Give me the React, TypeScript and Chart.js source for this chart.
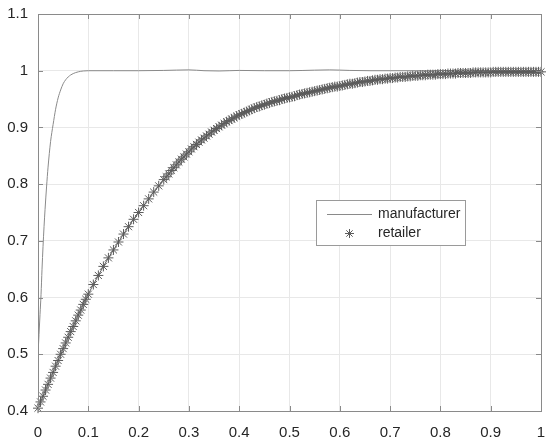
import React, { useEffect, useRef } from "react";
import { Chart, registerables } from "chart.js";

Chart.register(...registerables);

// ---- data ----
const xTicks = [0, 0.1, 0.2, 0.3, 0.4, 0.5, 0.6, 0.7, 0.8, 0.9, 1];
const xTickLabels = ["0", "0.1", "0.2", "0.3", "0.4", "0.5", "0.6", "0.7", "0.8", "0.9", "1"];
const yTicks = [0.4, 0.5, 0.6, 0.7, 0.8, 0.9, 1.0, 1.1];
const yTickLabels = ["0.4", "0.5", "0.6", "0.7", "0.8", "0.9", "1", "1.1"];

const seriesNames = ["manufacturer", "retailer"];

const mfrX = [0, 0.002, 0.004, 0.006, 0.008, 0.01, 0.012, 0.014, 0.017, 0.02, 0.025, 0.03, 0.035, 0.04, 0.045, 0.05, 0.055, 0.06, 0.065, 0.07, 0.08, 0.09, 0.1, 0.15, 0.2, 0.25, 0.3, 0.33, 0.36, 0.4, 0.45, 0.5, 0.55, 0.58, 0.62, 0.66, 0.7, 0.75, 0.8, 0.9, 1.0];
const mfrY = [0.5, 0.535, 0.57, 0.605, 0.65, 0.69, 0.725, 0.755, 0.795, 0.83, 0.875, 0.905, 0.932, 0.952, 0.966, 0.977, 0.984, 0.989, 0.9925, 0.995, 0.998, 0.9995, 1.0, 1.0, 1.0, 1.0005, 1.0015, 1.0, 0.9995, 1.0005, 1.0, 1.0, 1.001, 1.0015, 1.0005, 1.0, 1.0, 1.0, 1.0, 1.0, 1.0];

const retX = [
  0, 0.005, 0.01, 0.015, 0.02, 0.025, 0.03, 0.035, 0.04, 0.045, 0.05, 0.055, 0.06, 0.065, 0.07, 0.075, 0.08, 0.085, 0.09, 0.095, 0.1,
  0.11, 0.12, 0.13, 0.14, 0.15, 0.16, 0.17, 0.18, 0.19, 0.2, 0.21, 0.22, 0.23, 0.24,
  0.25, 0.255, 0.26, 0.265, 0.27, 0.275, 0.28, 0.285, 0.29, 0.295, 0.3, 0.305, 0.31, 0.315, 0.32, 0.325, 0.33, 0.335, 0.34, 0.345,
  0.35, 0.355, 0.36, 0.365, 0.37, 0.375, 0.38, 0.385, 0.39, 0.395, 0.4, 0.405, 0.41, 0.415, 0.42, 0.425, 0.43, 0.435, 0.44, 0.445,
  0.45, 0.455, 0.46, 0.465, 0.47, 0.475, 0.48, 0.485, 0.49, 0.495, 0.5, 0.505, 0.51, 0.515, 0.52, 0.525, 0.53, 0.535, 0.54, 0.545,
  0.55, 0.555, 0.56, 0.565, 0.57, 0.575, 0.58, 0.585, 0.59, 0.595, 0.6, 0.605, 0.61, 0.615, 0.62, 0.625, 0.63, 0.635, 0.64, 0.645,
  0.65, 0.655, 0.66, 0.665, 0.67, 0.675, 0.68, 0.685, 0.69, 0.695, 0.7, 0.705, 0.71, 0.715, 0.72, 0.725, 0.73, 0.735, 0.74, 0.745,
  0.75, 0.755, 0.76, 0.765, 0.77, 0.775, 0.78, 0.785, 0.79, 0.795, 0.8, 0.805, 0.81, 0.815, 0.82, 0.825, 0.83, 0.835, 0.84, 0.845,
  0.85, 0.855, 0.86, 0.865, 0.87, 0.875, 0.88, 0.885, 0.89, 0.895, 0.9, 0.905, 0.91, 0.915, 0.92, 0.925, 0.93, 0.935, 0.94, 0.945,
  0.95, 0.955, 0.96, 0.965, 0.97, 0.975, 0.98, 0.985, 0.99, 0.995, 1.0,
];
const retY = [
  0.405, 0.416, 0.426, 0.437, 0.447, 0.458, 0.468, 0.479, 0.489, 0.5, 0.51, 0.52, 0.53, 0.54, 0.549, 0.559, 0.569, 0.578, 0.588, 0.597, 0.606,
  0.623, 0.639, 0.655, 0.67, 0.684, 0.698, 0.712, 0.725, 0.738, 0.75, 0.762, 0.774, 0.786, 0.797,
  0.808, 0.813, 0.818, 0.824, 0.829, 0.834, 0.839, 0.844, 0.848, 0.853, 0.857, 0.862, 0.866, 0.87, 0.874, 0.878, 0.881, 0.885, 0.888, 0.892,
  0.895, 0.898, 0.901, 0.904, 0.907, 0.91, 0.912, 0.915, 0.917, 0.92, 0.922, 0.924, 0.926, 0.928, 0.93, 0.932, 0.934, 0.936, 0.937, 0.939,
  0.94, 0.942, 0.943, 0.945, 0.946, 0.947, 0.948, 0.95, 0.951, 0.952, 0.953, 0.954, 0.955, 0.957, 0.958, 0.959, 0.96, 0.961, 0.962, 0.963,
  0.964, 0.965, 0.966, 0.967, 0.968, 0.969, 0.97, 0.971, 0.972, 0.972, 0.973, 0.974, 0.975, 0.976, 0.977, 0.977, 0.978, 0.979, 0.98, 0.98,
  0.981, 0.982, 0.982, 0.983, 0.984, 0.984, 0.985, 0.985, 0.986, 0.986, 0.987, 0.987, 0.988, 0.988, 0.989, 0.989, 0.989, 0.99, 0.99, 0.991,
  0.991, 0.991, 0.992, 0.992, 0.992, 0.993, 0.993, 0.993, 0.993, 0.994, 0.994, 0.994, 0.994, 0.995, 0.995, 0.995, 0.995, 0.996, 0.996, 0.996,
  0.996, 0.996, 0.996, 0.997, 0.997, 0.997, 0.997, 0.997, 0.997, 0.997, 0.997, 0.998, 0.998, 0.998, 0.998, 0.998, 0.998, 0.998, 0.998, 0.998,
  0.998, 0.998, 0.998, 0.998, 0.998, 0.998, 0.998, 0.998, 0.998, 0.998, 0.998,
];

// ---- styles ----
const FONT = "'Liberation Sans', Arial, sans-serif";
const MFR_COLOR = "#8a8a8a";
const RET_COLOR = "#5c5c5c";
const AXIS_COLOR = "#8a8a8a";
const GRID_COLOR = "#e8e8e8";
const TEXT_COLOR = "#262626";

function drawStar(ctx: CanvasRenderingContext2D, x: number, y: number, r: number) {
  ctx.beginPath();
  for (let k = 0; k < 4; k++) {
    const a = (k * Math.PI) / 4;
    ctx.moveTo(x - r * Math.cos(a), y - r * Math.sin(a));
    ctx.lineTo(x + r * Math.cos(a), y + r * Math.sin(a));
  }
  ctx.stroke();
}

const framePlugin = {
  id: "frame",
  afterDraw(chart: any) {
    const ctx: CanvasRenderingContext2D = chart.ctx;
    const { left, right, top, bottom } = chart.chartArea;
    const xs = chart.scales.x;
    const ys = chart.scales.y;
    ctx.save();
    ctx.strokeStyle = AXIS_COLOR;
    ctx.lineWidth = 1;
    ctx.strokeRect(Math.round(left) + 0.5, Math.round(top) + 0.5, Math.round(right - left), Math.round(bottom - top));
    const tl = 5;
    ctx.beginPath();
    xTicks.forEach((v) => {
      const px = Math.round(xs.getPixelForValue(v)) + 0.5;
      ctx.moveTo(px, bottom);
      ctx.lineTo(px, bottom - tl);
      ctx.moveTo(px, top);
      ctx.lineTo(px, top + tl);
    });
    yTicks.forEach((v) => {
      const py = Math.round(ys.getPixelForValue(v)) + 0.5;
      ctx.moveTo(left, py);
      ctx.lineTo(left + tl, py);
      ctx.moveTo(right, py);
      ctx.lineTo(right - tl, py);
    });
    ctx.stroke();

    // legend box
    const bx = 316.5, by = 200.5, bw = 149, bh = 45;
    ctx.fillStyle = "#ffffff";
    ctx.fillRect(bx, by, bw, bh);
    ctx.strokeStyle = "#9a9a9a";
    ctx.strokeRect(bx, by, bw, bh);
    ctx.strokeStyle = MFR_COLOR;
    ctx.beginPath();
    ctx.moveTo(327, 214.5);
    ctx.lineTo(372, 214.5);
    ctx.stroke();
    ctx.strokeStyle = RET_COLOR;
    drawStar(ctx, 349.5, 233.5, 4.5);
    ctx.fillStyle = TEXT_COLOR;
    ctx.font = `14px ${FONT}`;
    ctx.textBaseline = "middle";
    ctx.textAlign = "left";
    ctx.fillText(seriesNames[0], 378, 214);
    ctx.fillText(seriesNames[1], 378, 233);
    ctx.restore();
  },
};

export default function App() {
  const ref = useRef<HTMLCanvasElement | null>(null);
  useEffect(() => {
    if (!ref.current) return;
    const chart = new Chart(ref.current, {
      type: "scatter",
      data: {
        datasets: [
          {
            label: seriesNames[0],
            data: mfrX.map((x, i) => ({ x, y: mfrY[i] })),
            showLine: true,
            borderColor: MFR_COLOR,
            borderWidth: 1,
            pointRadius: 0,
            cubicInterpolationMode: "monotone",
            order: 1,
          },
          {
            label: seriesNames[1],
            data: retX.map((x, i) => ({ x, y: retY[i] })),
            showLine: true,
            borderColor: RET_COLOR,
            backgroundColor: RET_COLOR,
            borderWidth: 1,
            pointStyle: "star",
            pointRadius: 5,
            pointBorderWidth: 1,
            pointBorderColor: RET_COLOR,
            clip: false,
            order: 0,
          } as any,
        ],
      },
      options: {
        responsive: false,
        animation: false,
        devicePixelRatio: 1,
        layout: { padding: { top: 14, right: 9, left: 0, bottom: 0 } },
        plugins: { legend: { display: false }, tooltip: { enabled: false } },
        scales: {
          x: {
            type: "linear",
            min: 0,
            max: 1,
            afterBuildTicks: (s: any) => {
              s.ticks = xTicks.map((v) => ({ value: v }));
            },
            afterFit: (s: any) => {
              s.height = 30;
              s.paddingLeft = 0;
              s.paddingRight = 0;
            },
            ticks: {
              padding: 13,
              color: TEXT_COLOR,
              font: { family: FONT, size: 15 },
              maxRotation: 0,
              autoSkip: false,
              callback: (_v: any, i: number) => xTickLabels[i],
            },
            grid: { color: GRID_COLOR, drawTicks: false },
            border: { display: false },
          },
          y: {
            type: "linear",
            min: 0.4,
            max: 1.1,
            afterBuildTicks: (s: any) => {
              s.ticks = yTicks.map((v) => ({ value: v }));
            },
            afterFit: (s: any) => {
              s.width = 38;
              s.paddingTop = 0;
              s.paddingBottom = 0;
            },
            ticks: {
              padding: 10,
              color: TEXT_COLOR,
              font: { family: FONT, size: 15 },
              autoSkip: false,
              callback: (_v: any, i: number) => yTickLabels[i],
            },
            grid: { color: GRID_COLOR, drawTicks: false },
            border: { display: false },
          },
        },
      },
      plugins: [framePlugin],
    } as any);
    return () => chart.destroy();
  }, []);
  return (
    <div style={{ position: "fixed", left: 0, top: 0, width: 550, height: 441, background: "#fff" }}>
      <canvas ref={ref} width={550} height={441} style={{ display: "block" }} />
    </div>
  );
}
